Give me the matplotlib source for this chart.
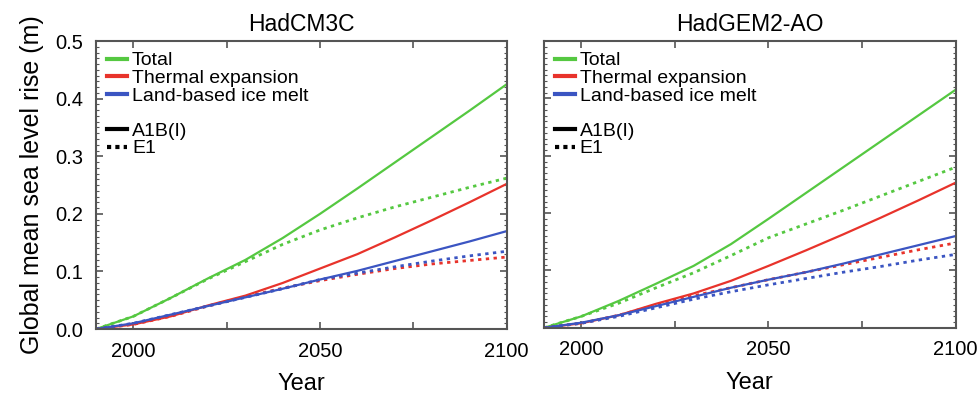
import numpy as np
import matplotlib.pyplot as plt
from matplotlib.lines import Line2D
from matplotlib.ticker import MultipleLocator

plt.rcParams['font.family'] = ['Liberation Sans', 'DejaVu Sans']

years = [1990, 2000, 2010, 2020, 2030, 2040, 2050, 2060, 2070, 2080, 2090, 2100]

# HadCM3C
cm3_total_a1b = [0, 0.022, 0.054, 0.088, 0.12, 0.158, 0.20, 0.244, 0.289, 0.334, 0.379, 0.425]
cm3_total_e1 = [0, 0.022, 0.054, 0.087, 0.117, 0.147, 0.172, 0.193, 0.212, 0.229, 0.246, 0.262]
cm3_therm_a1b = [0, 0.008, 0.022, 0.041, 0.058, 0.08, 0.105, 0.13, 0.159, 0.189, 0.22, 0.252]
cm3_therm_e1 = [0, 0.008, 0.022, 0.04, 0.056, 0.071, 0.084, 0.095, 0.105, 0.113, 0.119, 0.125]
cm3_ice_a1b = [0, 0.01, 0.025, 0.04, 0.055, 0.07, 0.086, 0.101, 0.118, 0.135, 0.152, 0.17]
cm3_ice_e1 = [0, 0.01, 0.025, 0.04, 0.055, 0.07, 0.086, 0.097, 0.108, 0.118, 0.127, 0.135]

# HadGEM2-AO
gem_total_a1b = [0, 0.02, 0.047, 0.077, 0.108, 0.146, 0.19, 0.235, 0.28, 0.325, 0.37, 0.415]
gem_total_e1 = [0, 0.02, 0.043, 0.07, 0.096, 0.126, 0.157, 0.181, 0.205, 0.23, 0.255, 0.28]
gem_therm_a1b = [0, 0.008, 0.022, 0.042, 0.06, 0.082, 0.108, 0.135, 0.163, 0.192, 0.222, 0.253]
gem_therm_e1 = [0, 0.008, 0.022, 0.04, 0.056, 0.07, 0.084, 0.097, 0.11, 0.123, 0.136, 0.148]
gem_ice_a1b = [0, 0.009, 0.022, 0.038, 0.054, 0.07, 0.084, 0.097, 0.112, 0.128, 0.144, 0.16]
gem_ice_e1 = [0, 0.008, 0.02, 0.035, 0.05, 0.063, 0.075, 0.086, 0.097, 0.107, 0.118, 0.128]

yticks = [0.0, 0.1, 0.2, 0.3, 0.4, 0.5]
ytick_labels = ['0.0', '0.1', '0.2', '0.3', '0.4', '0.5']
xticks = [2000, 2025, 2050, 2075, 2100]
xtick_labels = ['2000', '', '2050', '', '2100']

green = '#55c841'
red = '#e8332b'
blue = '#3b55c2'

fig = plt.figure(figsize=(9.8, 3.95), dpi=100)
ax1 = fig.add_axes([0.098, 0.167, 0.419, 0.729])
ax2 = fig.add_axes([0.555, 0.170, 0.420, 0.726])

panels = [
    (ax1, 'HadCM3C', [cm3_total_a1b, cm3_total_e1, cm3_therm_a1b, cm3_therm_e1, cm3_ice_a1b, cm3_ice_e1]),
    (ax2, 'HadGEM2-AO', [gem_total_a1b, gem_total_e1, gem_therm_a1b, gem_therm_e1, gem_ice_a1b, gem_ice_e1]),
]

for ax, title, d in panels:
    cols = [green, green, red, red, blue, blue]
    for i in range(6):
        if i % 2 == 0:
            ax.plot(years, d[i], color=cols[i], lw=1.6)
        else:
            ax.plot(years, d[i], color=cols[i], lw=2.0, linestyle=(0, (1.2, 1.6)))
    ax.set_xlim(1990, 2100)
    ax.set_ylim(0, 0.5)
    ax.set_title(title, fontsize=16.5, pad=7)
    ax.set_xticks(xticks)
    ax.set_xticklabels(xtick_labels)
    ax.set_yticks(yticks)
    ax.yaxis.set_minor_locator(MultipleLocator(0.01))
    ax.tick_params(which='both', direction='in', top=True, right=True, color='#555555', labelsize=14.5)
    ax.tick_params(which='major', length=5, width=1.2, pad=9)
    ax.tick_params(which='minor', length=2.5, width=0.8)
    ax.set_xlabel('Year', fontsize=17, labelpad=9)
    for s in ax.spines.values():
        s.set_color('#555555')
        s.set_linewidth(1.5)

    handles = [
        Line2D([], [], color=green, lw=3),
        Line2D([], [], color=red, lw=3),
        Line2D([], [], color=blue, lw=3),
        Line2D([], [], color='none'),
        Line2D([], [], color='black', lw=3),
        Line2D([], [], color='black', lw=3, linestyle=(0, (1, 1))),
    ]
    labels = ['Total', 'Thermal expansion', 'Land-based ice melt', '', 'A1B(I)', 'E1']
    ax.legend(handles, labels, loc='upper left', frameon=False, fontsize=14,
              handlelength=1.05, handletextpad=0.25, labelspacing=0.0,
              borderaxespad=0.1, borderpad=0.45)

ax1.set_yticklabels(ytick_labels)
ax2.set_yticklabels([])
ax1.set_ylabel('Global mean sea level rise (m)', fontsize=18, labelpad=8)

fig.savefig('out.png', dpi=100)
